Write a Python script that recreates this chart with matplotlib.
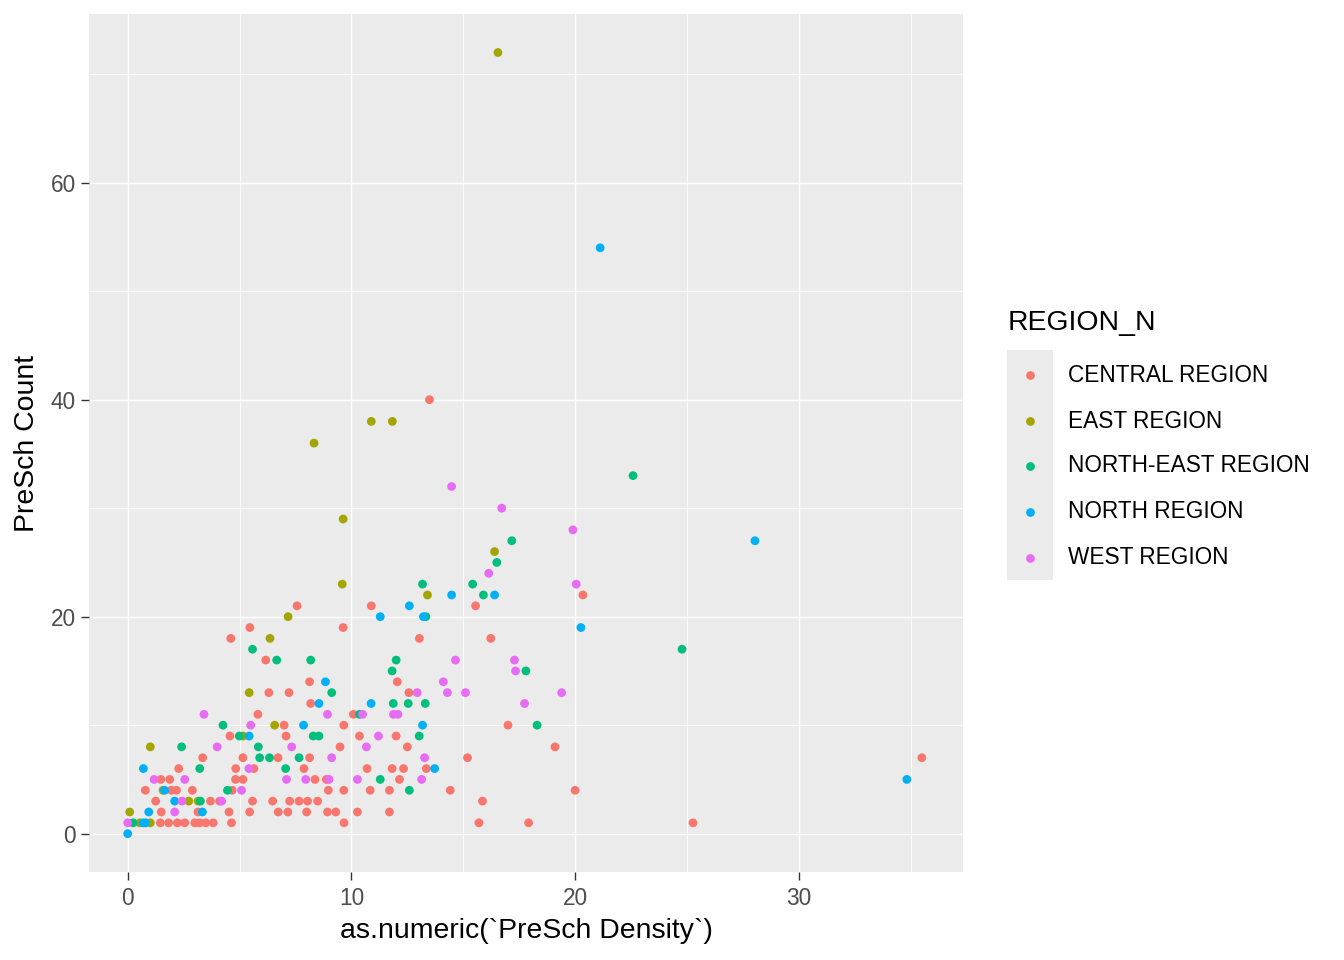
import numpy as np
import matplotlib
matplotlib.use("Agg")
import matplotlib.pyplot as plt
from matplotlib.lines import Line2D
from matplotlib.patches import Rectangle

plt.rcParams['font.family'] = ['Liberation Sans', 'DejaVu Sans']

# PreSch Density (x) and PreSch Count (y), one pair of lists per region
central_x = [1.46, 1.83, 2.22, 2.55, 3.0, 3.22, 3.49, 3.82, 4.64, 9.67, 15.7, 17.92, 25.27,
             1.5, 3.14, 4.53, 5.45, 6.73, 7.16, 8.0, 8.93, 9.3, 10.27, 11.7,
             1.25, 3.7, 4.11, 5.58, 6.48, 7.24, 7.66, 8.04, 8.49, 15.86,
             0.79, 1.95, 2.18, 2.89, 4.67, 8.97, 9.66, 10.84, 11.7, 14.42, 20.0,
             1.48, 1.88, 4.82, 5.15, 8.37, 8.88, 12.15,
             2.28, 4.83, 5.64, 7.88, 10.7, 11.82, 12.33, 13.35,
             3.35, 5.15, 6.72, 8.13, 15.19, 35.5,
             9.49, 12.5, 19.1,
             4.57, 7.08, 10.36, 12.0,
             6.99, 9.66, 17.0,
             5.82, 10.09,
             8.18,
             6.31, 7.21, 12.57,
             8.13, 12.05,
             6.17,
             4.61, 13.04, 16.23,
             5.46, 9.63,
             7.57, 10.89, 15.55,
             20.35,
             13.49]
central_y = [1] * 13 + [2] * 11 + [3] * 10 + [4] * 11 + [5] * 7 + [6] * 8 + [7] * 6 \
            + [8] * 3 + [9] * 4 + [10] * 3 + [11] * 2 + [12] + [13] * 3 + [14] * 2 \
            + [16] + [18] * 3 + [19] * 2 + [21] * 3 + [22] + [40]

east_x = [0.54, 1.01, 0.09, 2.73, 3.15, 1.58, 1.01, 5.16, 6.57, 5.43, 6.36, 7.17,
          13.4, 9.59, 16.4, 9.63, 8.33, 10.89, 11.83, 16.55]
east_y = [1, 1, 2, 3, 3, 4, 8, 9, 10, 13, 18, 20, 22, 23, 26, 29, 36, 38, 38, 72]

northeast_x = [0.24, 3.25, 4.46, 12.59, 11.29, 3.22, 7.06, 5.9, 6.34, 7.66, 2.41, 5.84,
               4.99, 8.29, 8.55, 13.03, 4.26, 18.3, 10.36, 11.87, 12.54, 13.3, 9.12,
               11.82, 17.8, 6.66, 8.18, 12.0, 5.58, 24.78, 13.33, 15.9, 13.18, 15.42,
               16.5, 17.17, 22.59]
northeast_y = [1, 3, 4, 4, 5, 6, 6, 7, 7, 7, 8, 8, 9, 9, 9, 9, 10, 10, 11, 12, 12, 12, 13,
               15, 15, 16, 16, 16, 17, 17, 20, 22, 23, 23, 25, 27, 33]

north_x = [0.0, 0.69, 0.8, 0.94, 3.34, 2.1, 1.65, 34.83, 0.7, 13.72, 5.43, 7.86, 13.18,
           8.55, 10.88, 8.84, 20.26, 11.29, 13.22, 12.59, 14.48, 16.4, 28.04, 21.12]
north_y = [0, 1, 1, 2, 2, 3, 4, 5, 6, 6, 9, 10, 10, 12, 12, 14, 19, 20, 20, 21, 22, 22, 27, 54]

west_x = [0.0, 2.1, 2.43, 4.2, 5.09, 1.18, 2.55, 7.1, 7.96, 9.0, 10.27, 13.14, 5.42,
          9.12, 13.27, 4.0, 7.33, 10.67, 11.21, 5.5, 3.41, 8.93, 10.5, 11.88, 12.08,
          17.74, 12.94, 14.29, 15.1, 19.4, 14.11, 17.34, 14.65, 17.29, 20.05, 16.14,
          19.9, 16.72, 14.48]
west_y = [1, 2, 3, 3, 4, 5, 5, 5, 5, 5, 5, 5, 6, 7, 7, 8, 8, 8, 9, 10, 11, 11, 11, 11, 11,
          12, 13, 13, 13, 13, 14, 15, 16, 16, 23, 24, 28, 30, 32]

regions = ['CENTRAL REGION', 'EAST REGION', 'NORTH-EAST REGION', 'NORTH REGION', 'WEST REGION']
colors = ['#F8766D', '#A3A500', '#00BF7D', '#00B0F6', '#E76BF3']
series = [(central_x, central_y), (east_x, east_y), (northeast_x, northeast_y),
          (north_x, north_y), (west_x, west_y)]

W, H = 1344, 960
fig = plt.figure(figsize=(W / 100, H / 100), dpi=100)

# panel in pixel coords: left 89, top 14, right 963, bottom 872
ax = fig.add_axes([89 / W, 1 - 872.3 / H, (963 - 89) / W, (872.3 - 14) / H])
ax.set_facecolor('#EBEBEB')
for s in ax.spines.values():
    s.set_visible(False)

for (xs, ys), c in zip(series, colors):
    ax.scatter(xs, ys, s=40, color=c, edgecolors='none', zorder=3)

ax.set_xlim(-1.73, 37.34)
ax.set_ylim(-3.56, 75.55)
ax.set_xticks([0, 10, 20, 30])
ax.set_yticks([0, 20, 40, 60])
ax.set_xticks([5, 15, 25, 35], minor=True)
ax.set_yticks([10, 30, 50, 70], minor=True)
ax.grid(which='major', color='white', linewidth=1.05, zorder=0)
ax.grid(which='minor', color='white', linewidth=0.55, zorder=0)
ax.set_axisbelow(True)
ax.tick_params(which='major', length=5.8, width=1.0, color='#333333',
               labelcolor='#4D4D4D', labelsize=16.3, pad=3.5)
ax.tick_params(axis='x', which='major', pad=5)
ax.tick_params(which='minor', length=0)

fig.text(526 / W, 1 - 931 / H, 'as.numeric(`PreSch Density`)', fontsize=20.4,
         ha='center', va='center', color='black')
fig.text(27 / W, 1 - 443 / H, 'PreSch Count', fontsize=20.4, rotation=90,
         ha='center', va='center', color='black')

# legend
fig.text(1008 / W, 1 - 323 / H, 'REGION_N', fontsize=20.4, ha='left', va='center')
fig.add_artist(Rectangle((1007 / W, 1 - 580 / H), 46 / W, 230 / H,
                         transform=fig.transFigure, facecolor='#EBEBEB', edgecolor='none'))
key_y = [375, 421, 466, 512, 558]
for name, c, ky in zip(regions, colors, key_y):
    fig.add_artist(Line2D([1030 / W], [1 - ky / H], marker='o', markersize=6.3,
                          color=c, markeredgewidth=0, transform=fig.transFigure))
    fig.text(1068 / W, 1 - ky / H, name, fontsize=16.3, ha='left', va='center')

fig.savefig('out.png', dpi=100)
